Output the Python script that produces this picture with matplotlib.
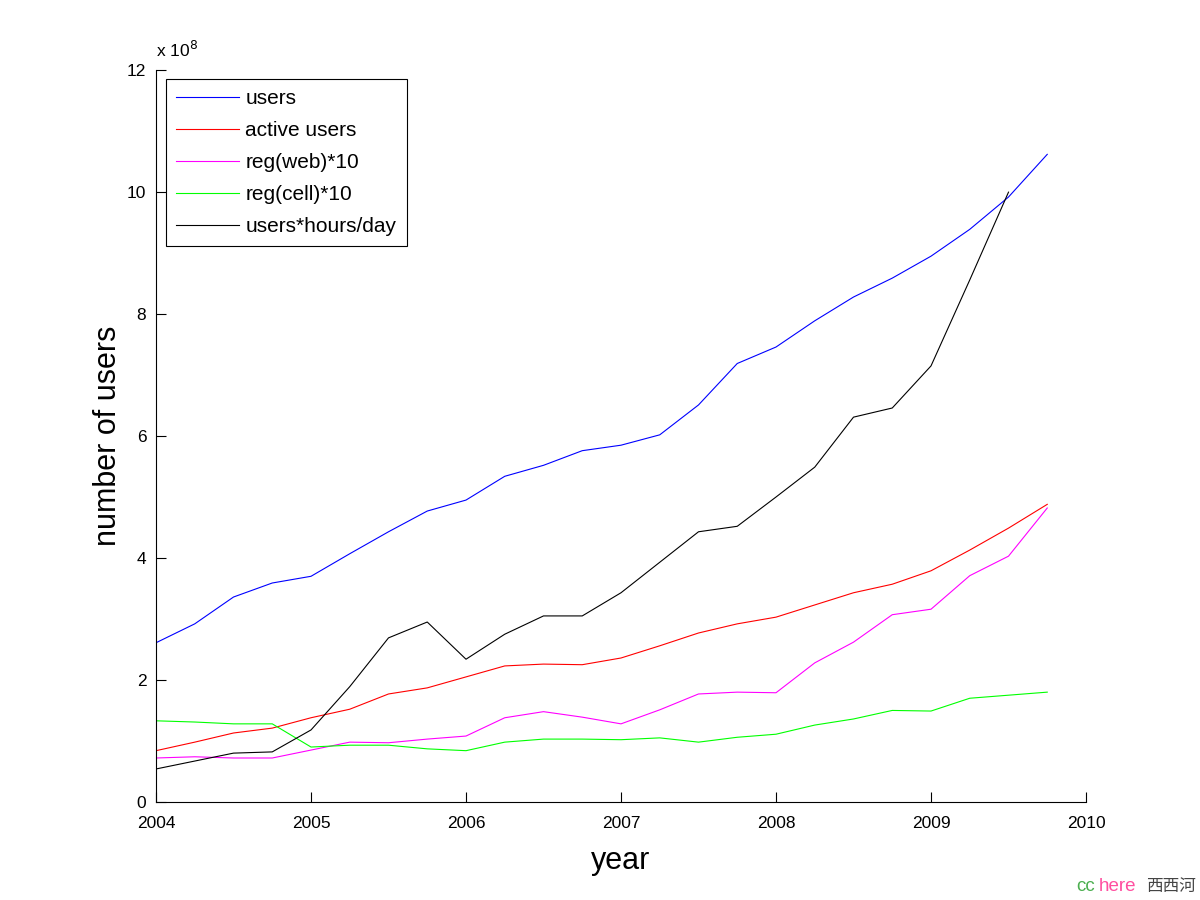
import numpy as np
import matplotlib.pyplot as plt
from matplotlib.ticker import FuncFormatter

# quarterly samples, values in units of 1e8
quarters = np.arange(2004, 2010, 0.25)
users = [2.61, 2.92, 3.36, 3.59, 3.70, 4.07, 4.43, 4.77, 4.95, 5.34, 5.52, 5.76,
         5.85, 6.02, 6.51, 7.19, 7.46, 7.89, 8.28, 8.59, 8.95, 9.39, 9.92, 10.62]
active_users = [0.84, 0.98, 1.13, 1.21, 1.38, 1.52, 1.77, 1.87, 2.05, 2.23, 2.26, 2.25,
                2.36, 2.56, 2.77, 2.92, 3.03, 3.23, 3.43, 3.57, 3.79, 4.13, 4.49, 4.88]
reg_web = [0.72, 0.74, 0.72, 0.72, 0.85, 0.98, 0.97, 1.03, 1.08, 1.38, 1.48, 1.39,
           1.28, 1.51, 1.77, 1.80, 1.79, 2.28, 2.62, 3.07, 3.16, 3.71, 4.03, 4.82]
reg_cell = [1.33, 1.31, 1.28, 1.28, 0.90, 0.93, 0.93, 0.87, 0.84, 0.98, 1.03, 1.03,
            1.02, 1.05, 0.98, 1.06, 1.11, 1.26, 1.36, 1.50, 1.49, 1.70, 1.75, 1.80]
# last quarter missing for this one
user_hours = [0.54, 0.67, 0.80, 0.82, 1.18, 1.89, 2.69, 2.95, 2.34, 2.75, 3.05, 3.05,
              3.43, 3.93, 4.43, 4.52, 5.00, 5.49, 6.31, 6.46, 7.15, 8.56, 10.0, np.nan]

series = [
    ('users', users, '#0000ff'),
    ('active users', active_users, '#ff0000'),
    ('reg(web)*10', reg_web, '#ff00ff'),
    ('reg(cell)*10', reg_cell, '#00ff00'),
    ('users*hours/day', user_hours, '#000000'),
]

plt.rcParams['font.family'] = ['Liberation Sans', 'DejaVu Sans']

fig = plt.figure(figsize=(12, 9), dpi=100)
ax = fig.add_axes([0.13, 0.109, 0.775, 0.813])

for name, vals, col in series:
    ax.plot(quarters, np.array(vals) * 1e8, color=col, lw=0.8, label=name)

ax.set_xlim(2004, 2010)
ax.set_ylim(0, 12e8)
ax.set_xticks(range(2004, 2011))
ax.set_yticks(np.arange(0, 13, 2) * 1e8)
ax.yaxis.set_major_formatter(FuncFormatter(lambda v, p: '%d' % round(v / 1e8)))

ax.spines['top'].set_visible(False)
ax.spines['right'].set_visible(False)
ax.tick_params(direction='in', length=7, width=0.8, labelsize=12.5)
ax.tick_params(axis='x', pad=10)
ax.tick_params(axis='y', pad=7)

ax.set_xlabel('year', fontsize=22, labelpad=11)
ax.set_ylabel('number of users', fontsize=22, labelpad=3)

ax.text(0.0, 1.014, 'x 10$^{8}$', transform=ax.transAxes, fontsize=12.5,
        ha='left', va='bottom')

leg = ax.legend(loc='upper left', bbox_to_anchor=(0.0108, 0.988), borderaxespad=0,
                fontsize=15, handlelength=3.0, handletextpad=0.3, labelspacing=0.62,
                borderpad=0.5, fancybox=False, framealpha=1)
leg.get_frame().set_edgecolor('black')
leg.get_frame().set_linewidth(0.8)

# watermark
fig.text(0.897, 0.010, 'cc', color='#4caf50', fontsize=13.5, ha='left')
fig.text(0.916, 0.010, 'here', color='#ff4fa0', fontsize=13.5, ha='left')
fig.text(0.955, 0.010, '西西河', color='#444444', fontsize=12, ha='left',
         family=['Noto Sans CJK SC', 'DejaVu Sans'])

fig.savefig('out.png', dpi=100)
